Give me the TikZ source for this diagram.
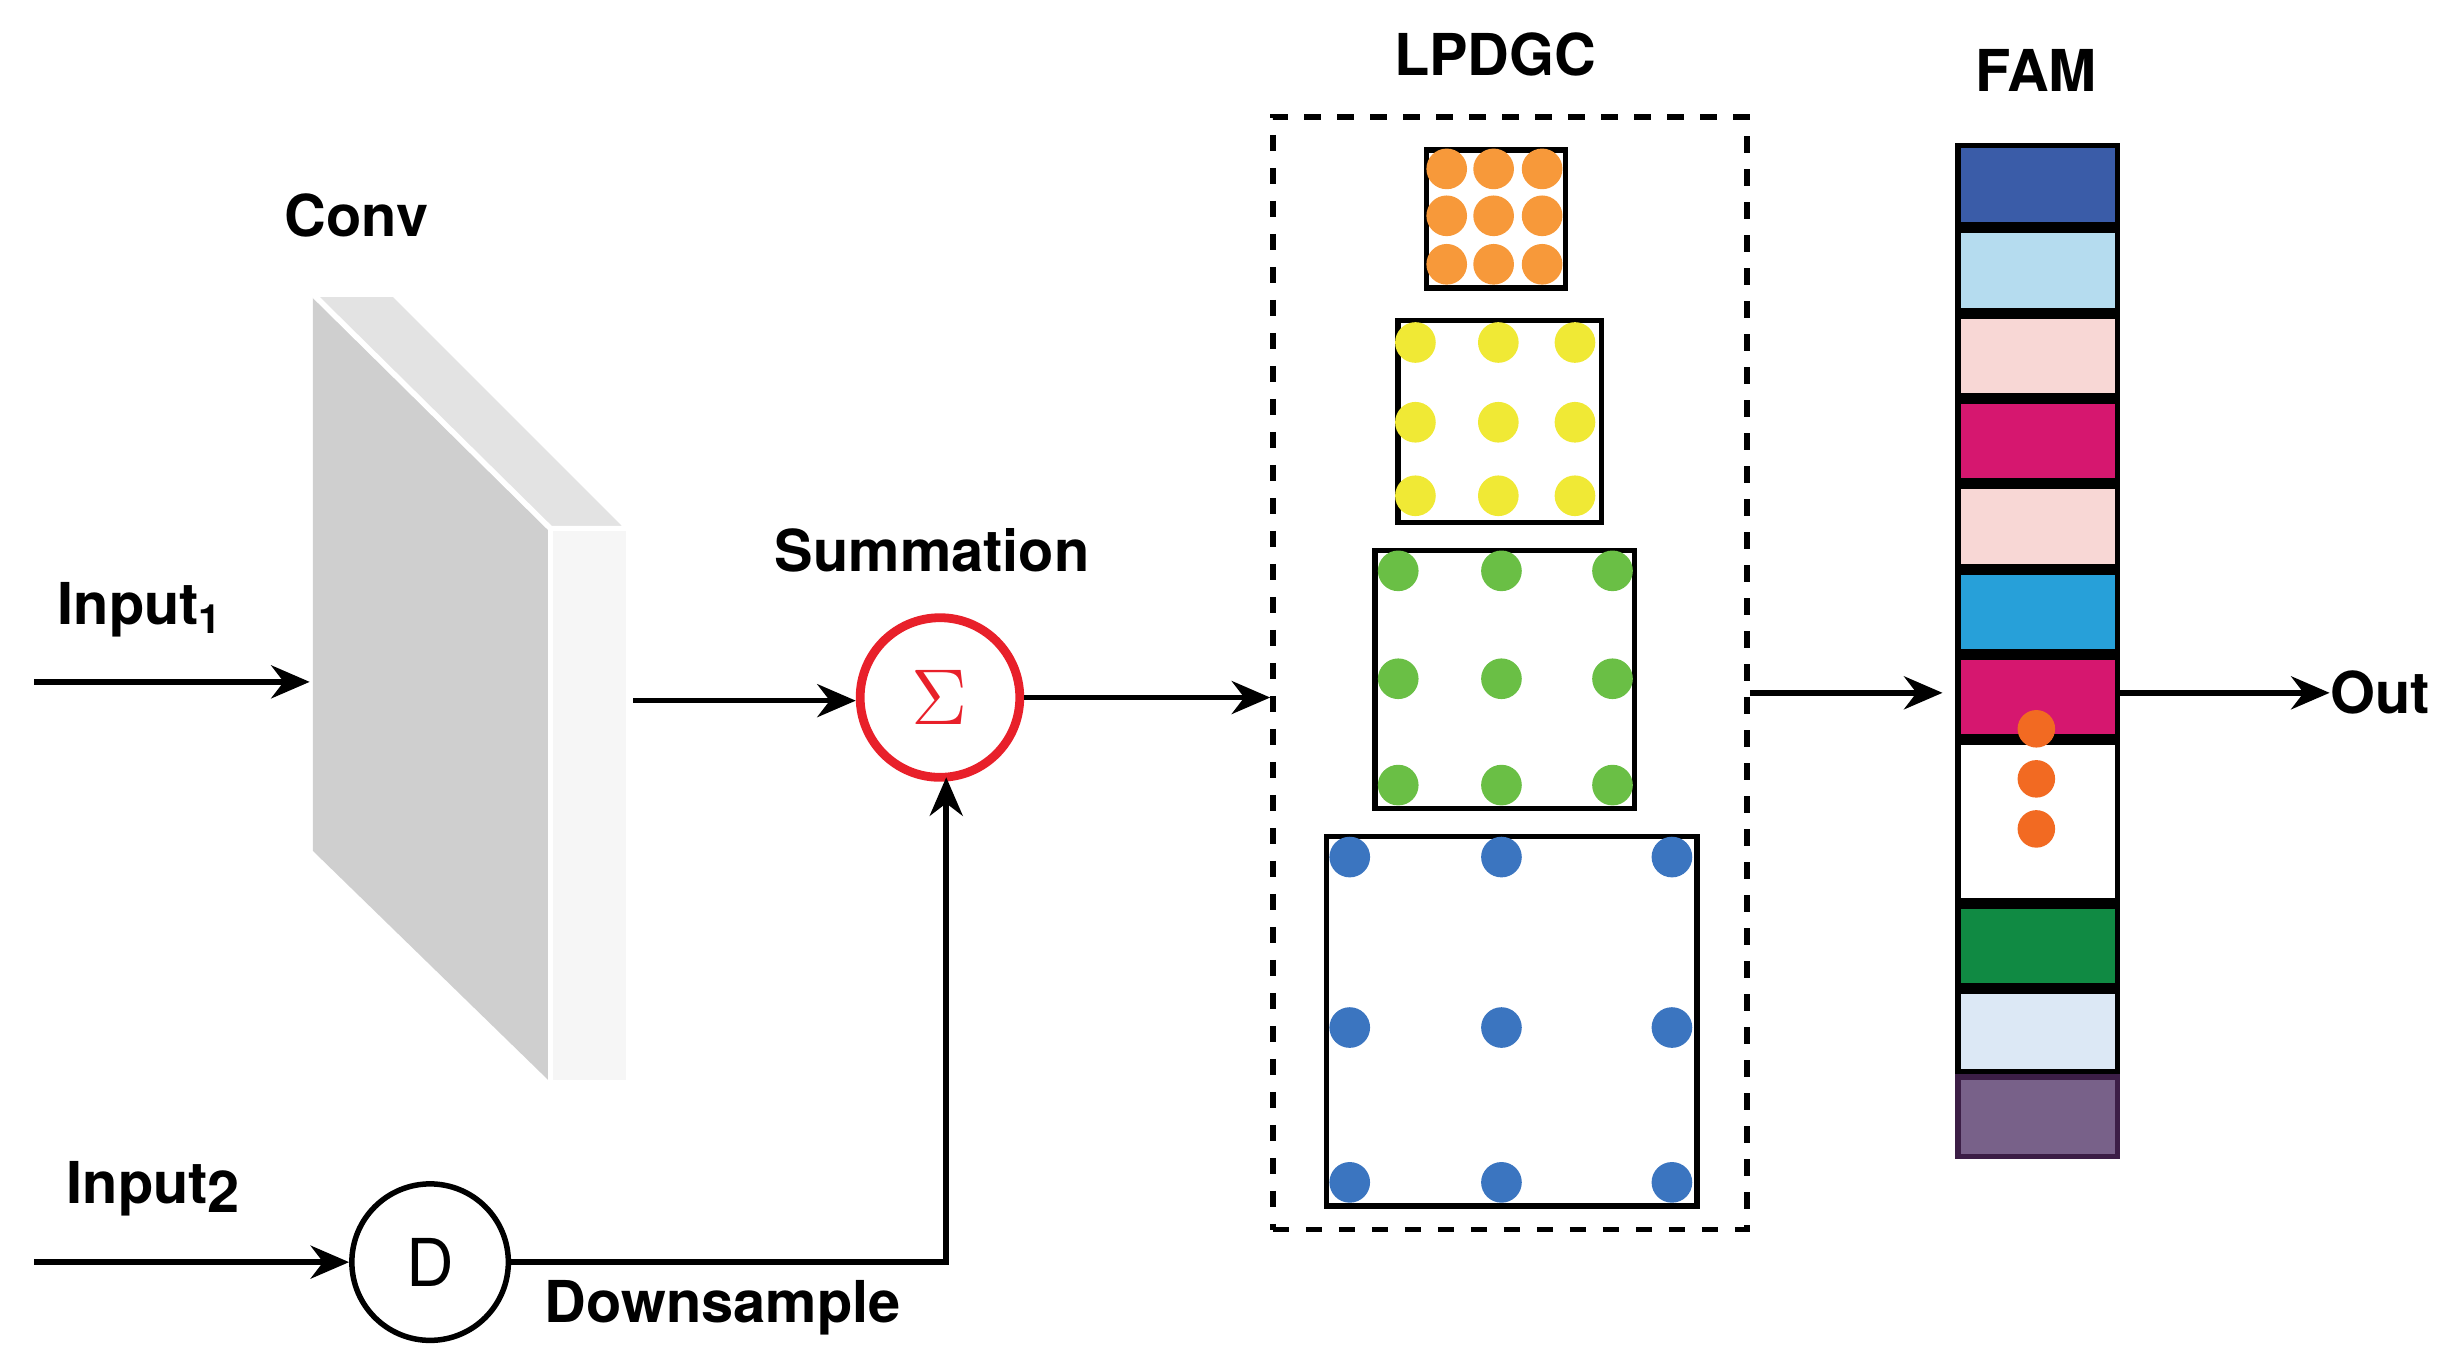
\documentclass[tikz,border=0pt]{standalone}
\usepackage{fontspec}
\setmainfont{TeX Gyre Heros}
\usetikzlibrary{arrows.meta, positioning}

\definecolor{my_red}{RGB}{232,32,42}
\definecolor{my_orange}{RGB}{247,153,58}
\definecolor{my_yellow}{RGB}{240,233,53}
\definecolor{my_green}{RGB}{106,191,69}
\definecolor{my_blue}{RGB}{59,117,192}
\definecolor{my_dot}{RGB}{242,106,34}

\begin{document}
\begin{tikzpicture}[x=0.01cm, y=-0.01cm, font=\fontsize{10.5}{12}\selectfont\bfseries]

\tikzstyle{line} = [draw, line width=1pt]
\tikzstyle{arrow} = [line, -{Stealth[length=7pt, width=6pt]}]
\tikzstyle{label} = [inner sep=0pt]
\tikzstyle{grid_box} = [draw, line width=1pt]
\tikzstyle{stripe} = [draw, line width=1pt, minimum width=1.02cm, minimum height=0.51cm, inner sep=0pt]

\useasboundingbox (0,0) rectangle (1562,868);

% conv block
\fill[gray!38] (200,188) -- (352,338) -- (352,692) -- (200,544) -- cycle;
\fill[gray!22, draw=white, line width=1pt] (200,188) -- (252,188) -- (402,338) -- (352,338) -- cycle;
\fill[gray!7, draw=white, line width=1pt] (352,338) rectangle (402,692);
\coordinate (conv_in) at (198,436);
\coordinate (conv_out) at (405,448);
\node[label] (conv) at (228,138) {Conv};

% inputs
\coordinate (in1) at (22,436);
\coordinate (in2) at (22,807);
\node[label] at (90,390) {Input$_{\mathbf 1}$};
\node[label] at (98,760) {Input\raisebox{-0.3ex}{2}};

% summation and downsample
\node[circle, draw=my_red, line width=1.6pt, minimum size=1.02cm, text=my_red, font=\Large] (sum) at (601,446) {$\Sigma$};
\node[label] at (596,352) {Summation};
\node[circle, draw, line width=1pt, minimum size=1.0cm, font=\normalfont\large] (down) at (275,807) {D};
\node[label] at (462,836) {Downsample};

% LPDGC
\node[draw, dashed, line width=1pt, minimum width=3.03cm, minimum height=7.11cm] (lpdgc) at (965.5,430.5) {};
\node[label] at (956,35) {LPDGC};

\draw[grid_box] (912,96) rectangle (1001,184);
\foreach \x in {925,955,986} \foreach \y in {108,138,169} \fill[my_orange] (\x,\y) circle (13);
\draw[grid_box] (894,205) rectangle (1024,334);
\foreach \x in {905,958,1007} \foreach \y in {219,270,317} \fill[my_yellow] (\x,\y) circle (13);
\draw[grid_box] (879,352) rectangle (1045,517);
\foreach \x in {894,960,1031} \foreach \y in {365,434,502} \fill[my_green] (\x,\y) circle (13);
\draw[grid_box] (848,535) rectangle (1085,771);
\foreach \x in {863,960,1069} \foreach \y in {548,657,756} \fill[my_blue] (\x,\y) circle (13);

% FAM
\node[label] at (1302,45) {FAM};
\node[stripe, fill={rgb,255:red,58;green,92;blue,168}] (s1) at (1303,118.5) {};
\node[stripe, fill={rgb,255:red,181;green,220;blue,239}, below=0pt of s1] (s2) {};
\node[stripe, fill={rgb,255:red,248;green,215;blue,213}, below=0pt of s2] (s3) {};
\node[stripe, fill={rgb,255:red,214;green,23;blue,111}, below=0pt of s3] (s4) {};
\node[stripe, fill={rgb,255:red,248;green,215;blue,213}, below=0pt of s4] (s5) {};
\node[stripe, fill={rgb,255:red,39;green,160;blue,217}, below=0pt of s5] (s6) {};
\node[stripe, fill={rgb,255:red,214;green,23;blue,111}, below=0pt of s6] (s7) {};
\node[stripe, fill=white, minimum height=1.01cm, below=0pt of s7] (s8) {};
\node[stripe, fill={rgb,255:red,16;green,138;blue,67}, below=0pt of s8] (s9) {};
\node[stripe, fill={rgb,255:red,220;green,232;blue,245}, below=0pt of s9] (s10) {};
\node[stripe, fill={rgb,255:red,120;green,97;blue,137}, draw={rgb,255:red,60;green,30;blue,70}, below=0pt of s10] (s11) {};
\foreach \y in {466,498,530} \fill[my_dot] (1302,\y) circle (12);
\coordinate (fam_in) at (1242,443);
\coordinate (fam_out) at (1354,443);
\node[label] (out) at (1522,443) {Out};

% connectors
\draw[arrow] (in1) -- (conv_in);
\draw[arrow] (conv_out) -- (conv_out -| sum.west);
\draw[arrow] (in2) -- (down);
\draw[arrow] (down.east) -| (605,497);
\draw[arrow] (sum.east) -- (lpdgc.west |- sum.east);
\draw[arrow] (lpdgc.east |- fam_in) -- (fam_in);
\draw[arrow] (fam_out) -- (out.west);

\end{tikzpicture}
\end{document}
